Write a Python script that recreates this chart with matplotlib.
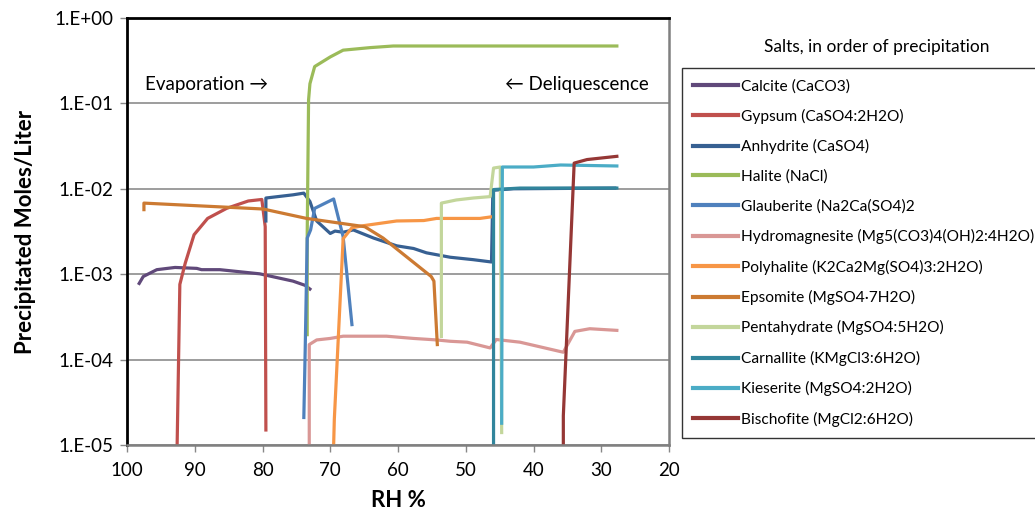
import matplotlib
matplotlib.use("Agg")
import matplotlib.pyplot as plt
from matplotlib.lines import Line2D

plt.rcParams["font.family"] = ["Lato", "DejaVu Sans"]

# --- series: (RH %, precipitated moles/liter) ---
names = [
    "Calcite (CaCO3)",
    "Gypsum (CaSO4:2H2O)",
    "Anhydrite (CaSO4)",
    "Halite (NaCl)",
    "Glauberite (Na2Ca(SO4)2",
    "Hydromagnesite (Mg5(CO3)4(OH)2:4H2O)",
    "Polyhalite (K2Ca2Mg(SO4)3:2H2O)",
    "Epsomite (MgSO4\u00b77H2O)",
    "Pentahydrate (MgSO4:5H2O)",
    "Carnallite (KMgCl3:6H2O)",
    "Kieserite (MgSO4:2H2O)",
    "Bischofite (MgCl2:6H2O)",
]
colors = ["#60497A", "#C0504D", "#376092", "#9BBB59", "#4F81BD", "#D99795",
          "#F79646", "#CC7A32", "#C3D69B", "#31859C", "#4BACC6", "#953735"]

calcite_rh = [98.2, 97.6, 95.6, 92.9, 89.7, 89.0, 86.3, 80.4, 75.5, 73.7, 73.0]
calcite_m = [7.8e-4, 9.4e-4, 1.13e-3, 1.2e-3, 1.17e-3, 1.13e-3, 1.13e-3, 1.01e-3, 8.3e-4, 7.4e-4, 6.7e-4]

gypsum_rh = [92.6, 92.2, 91.4, 90.1, 88.1, 85.3, 82.1, 80.1, 79.6, 79.5]
gypsum_m = [1e-5, 7.6e-4, 1.35e-3, 2.9e-3, 4.5e-3, 5.9e-3, 7.2e-3, 7.5e-3, 3.6e-3, 1.5e-5]

anhydrite_rh = [79.5, 79.5, 75.5, 73.9, 73.0, 72.0, 70.0, 69.3, 68.1, 66.6, 63.6, 60.2,
                57.7, 55.8, 52.3, 48.9, 46.2, 46.0, 43.0, 28.0]
anhydrite_m = [4.2e-3, 7.8e-3, 8.5e-3, 8.9e-3, 7.1e-3, 4.2e-3, 3.0e-3, 3.2e-3, 3.1e-3, 3.3e-3,
               2.65e-3, 2.15e-3, 2.0e-3, 1.78e-3, 1.58e-3, 1.48e-3, 1.39e-3, 9.6e-3, 1.0e-2, 1.02e-2]

halite_rh = [73.4, 73.4, 73.2, 73.0, 72.3, 70.0, 68.1, 64.1, 60.7, 27.7]
halite_m = [1.96e-4, 3e-3, 0.11, 0.17, 0.27, 0.35, 0.42, 0.45, 0.47, 0.47]

glauberite_rh = [73.9, 73.7, 73.4, 72.9, 72.3, 69.5, 68.1, 66.8]
glauberite_m = [2.1e-5, 1.3e-4, 2.65e-3, 3.3e-3, 5.9e-3, 7.6e-3, 2.75e-3, 2.57e-4]

hydromag_rh = [73.1, 73.1, 72.0, 70.0, 68.1, 61.7, 57.7, 54.3, 52.3, 49.8, 46.4, 45.5,
               42.0, 35.6, 33.9, 31.7, 27.7]
hydromag_m = [1e-5, 1.5e-4, 1.7e-4, 1.77e-4, 1.88e-4, 1.88e-4, 1.77e-4, 1.7e-4, 1.64e-4,
              1.6e-4, 1.37e-4, 1.72e-4, 1.6e-4, 1.22e-4, 2.14e-4, 2.3e-4, 2.2e-4]

polyhalite_rh = [69.5, 69.4, 68.1, 66.8, 65.1, 60.2, 56.2, 54.3, 47.9, 46.2]
polyhalite_m = [1e-5, 2e-5, 2.6e-3, 3.5e-3, 3.7e-3, 4.2e-3, 4.25e-3, 4.5e-3, 4.5e-3, 4.7e-3]

epsomite_rh = [97.5, 97.5, 79.9, 73.5, 64.9, 62.2, 55.1, 54.7, 54.2]
epsomite_m = [5.7e-3, 6.8e-3, 5.8e-3, 4.5e-3, 3.6e-3, 2.65e-3, 9.4e-4, 8.3e-4, 1.5e-4]

penta_rh = [53.6, 53.6, 51.4, 48.9, 46.4, 45.9, 44.9, 44.7]
penta_m = [1.87e-4, 6.8e-3, 7.4e-3, 7.8e-3, 8.1e-3, 1.75e-2, 1.8e-2, 1.4e-5]

carnallite_rh = [45.9, 45.9, 42.0, 27.7]
carnallite_m = [1e-5, 9.8e-3, 1.02e-2, 1.02e-2]

kieserite_rh = [44.7, 44.6, 40.0, 36.0, 27.7]
kieserite_m = [1.8e-5, 1.8e-2, 1.8e-2, 1.9e-2, 1.85e-2]

bischofite_rh = [35.6, 35.6, 34.0, 32.1, 27.7]
bischofite_m = [1e-5, 2.2e-5, 2.0e-2, 2.2e-2, 2.4e-2]

series = [(calcite_rh, calcite_m), (gypsum_rh, gypsum_m), (anhydrite_rh, anhydrite_m),
          (halite_rh, halite_m), (glauberite_rh, glauberite_m), (hydromag_rh, hydromag_m),
          (polyhalite_rh, polyhalite_m), (epsomite_rh, epsomite_m), (penta_rh, penta_m),
          (carnallite_rh, carnallite_m), (kieserite_rh, kieserite_m),
          (bischofite_rh, bischofite_m)]

ytick_vals = [1e-5, 1e-4, 1e-3, 1e-2, 1e-1, 1e0]
ytick_labels = ["1.E-05", "1.E-04", "1.E-03", "1.E-02", "1.E-01", "1.E+00"]
xtick_vals = [100, 90, 80, 70, 60, 50, 40, 30, 20]

fig = plt.figure(figsize=(10.35, 5.23), dpi=100)
ax = fig.add_axes([0.1227, 0.1491, 0.5237, 0.8165])

for (rh, m), name, c in zip(series, names, colors):
    ax.plot(rh, m, color=c, lw=2.3, label=name, solid_joinstyle="round")

ax.set_yscale("log")
ax.set_xlim(100, 20)
ax.set_ylim(1e-5, 1)
ax.set_yticks(ytick_vals)
ax.set_yticklabels(ytick_labels)
ax.minorticks_off()
ax.set_xticks(xtick_vals)
ax.tick_params(axis="both", labelsize=13.5, colors="#888888", labelcolor="black",
               direction="out", length=5, width=1)
ax.tick_params(axis="x", pad=7)
ax.tick_params(axis="y", pad=5)
ax.grid(axis="y", color="#8c8c8c", lw=1.2)
ax.set_axisbelow(True)

for side in ["top", "left"]:
    ax.spines[side].set_color("black")
    ax.spines[side].set_linewidth(2)
for side in ["right", "bottom"]:
    ax.spines[side].set_color("#808080")
    ax.spines[side].set_linewidth(1.8)

ax.set_xlabel("RH %", fontsize=16, fontweight="bold", labelpad=8)
ax.set_ylabel("Precipitated Moles/Liter", fontsize=16, fontweight="bold", labelpad=13)

ax.text(97.3, 0.165, "Evaporation \u2192", fontsize=13.5, ha="left", va="center")
ax.text(22.95, 0.165, "\u2190 Deliquescence", fontsize=13.5, ha="right", va="center")

handles = [Line2D([], [], color=c, lw=3) for c in colors]
leg = fig.legend(handles, names, loc="upper left", bbox_to_anchor=(0.659, 0.870, 0.36, 0.0),
                 mode="expand", borderaxespad=0, fontsize=11.2, handlelength=2.9,
                 handletextpad=0.2, labelspacing=0.99, borderpad=0.7, fancybox=False,
                 frameon=True)
leg.get_frame().set_edgecolor("black")
leg.get_frame().set_linewidth(1.0)
fig.text(0.847, 0.910, "Salts, in order of precipitation", fontsize=12.5, ha="center", va="center")

fig.savefig("out.png", dpi=100)
